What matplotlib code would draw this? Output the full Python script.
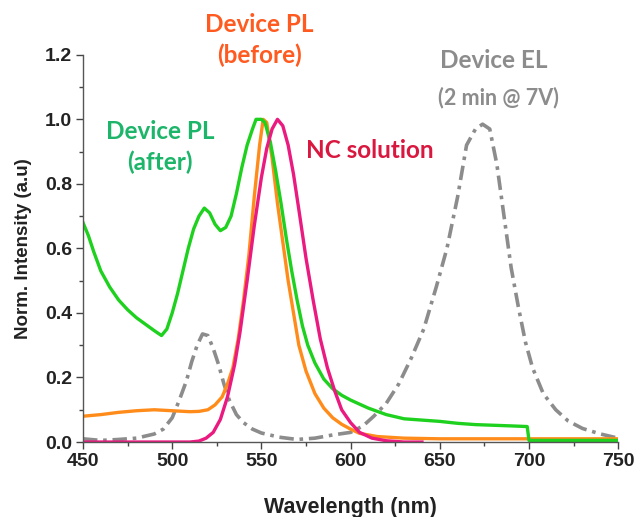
import matplotlib
matplotlib.use("Agg")
import matplotlib.pyplot as plt
from matplotlib.ticker import MultipleLocator

# Device PL (after) - green
wl_after = [450, 453, 456, 460, 465, 470, 475, 480, 485, 490, 494, 497, 500, 503, 506,
            509, 512, 515, 518, 521, 524, 527, 530, 533, 536, 539, 542, 545, 547, 550,
            552, 555, 558, 561, 564, 567, 570, 573, 576, 580, 585, 590, 595, 600, 610,
            620, 630, 640, 650, 660, 670, 680, 690, 699, 700, 750]
pl_after = [0.68, 0.64, 0.59, 0.53, 0.48, 0.44, 0.41, 0.385, 0.365, 0.345, 0.33, 0.35,
            0.40, 0.46, 0.53, 0.60, 0.66, 0.70, 0.725, 0.71, 0.675, 0.655, 0.665, 0.70,
            0.77, 0.85, 0.92, 0.97, 1.0, 1.0, 0.99, 0.93, 0.84, 0.74, 0.63, 0.53, 0.44,
            0.36, 0.30, 0.245, 0.195, 0.165, 0.145, 0.13, 0.105, 0.085, 0.072, 0.068,
            0.064, 0.058, 0.054, 0.052, 0.05, 0.048, 0.005, 0.005]

# Device PL (before) - orange
wl_before = [450, 460, 470, 480, 490, 500, 510, 515, 520, 524, 528, 531, 534, 537, 540,
             543, 546, 549, 551, 553, 556, 559, 562, 565, 568, 571, 575, 580, 585, 590,
             595, 600, 605, 615, 630, 650, 700, 750]
pl_before = [0.08, 0.085, 0.092, 0.097, 0.10, 0.097, 0.094, 0.095, 0.10, 0.115, 0.14,
             0.18, 0.23, 0.32, 0.44, 0.58, 0.76, 0.92, 1.0, 0.99, 0.88, 0.74, 0.62, 0.50,
             0.40, 0.30, 0.22, 0.15, 0.105, 0.075, 0.055, 0.04, 0.027, 0.017, 0.012,
             0.01, 0.01, 0.01]

# NC solution - magenta
wl_nc = [450, 510, 515, 519, 523, 527, 531, 535, 538, 542, 546, 550, 553, 556, 559, 562,
         565, 568, 571, 575, 579, 583, 587, 591, 595, 600, 605, 612, 620, 630, 640]
pl_nc = [0.0, 0.0, 0.003, 0.012, 0.03, 0.07, 0.14, 0.24, 0.34, 0.50, 0.67, 0.82, 0.91,
         0.97, 1.0, 0.98, 0.92, 0.83, 0.72, 0.57, 0.44, 0.32, 0.23, 0.16, 0.10, 0.06,
         0.03, 0.012, 0.004, 0.0, 0.0]

# Device EL - gray
wl_el = [450, 460, 470, 480, 490, 495, 500, 504, 508, 511, 514, 517, 520, 523, 526, 529,
         532, 536, 540, 545, 550, 560, 570, 580, 590, 600, 607, 613, 620, 627, 634, 641,
         648, 654, 660, 665, 670, 674, 678, 682, 686, 690, 694, 698, 702, 708, 715, 722,
         730, 740, 750]
el = [0.01, 0.005, 0.008, 0.012, 0.025, 0.04, 0.075, 0.13, 0.19, 0.25, 0.30, 0.335, 0.33,
      0.29, 0.24, 0.18, 0.13, 0.085, 0.06, 0.04, 0.028, 0.015, 0.008, 0.012, 0.022,
      0.03, 0.05, 0.08, 0.12, 0.18, 0.26, 0.35, 0.48, 0.60, 0.76, 0.92, 0.97, 0.985,
      0.97, 0.86, 0.70, 0.54, 0.42, 0.31, 0.23, 0.15, 0.10, 0.065, 0.042, 0.025, 0.012]

xticks = [450, 500, 550, 600, 650, 700, 750]
yticks = [0.0, 0.2, 0.4, 0.6, 0.8, 1.0, 1.2]

fig = plt.figure(figsize=(6.36, 5.17), dpi=100)
ax = fig.add_axes([0.1305, 0.145, 0.8415, 0.749])

ax.plot(wl_el, el, color="#8c8c8c", lw=2.6, linestyle=(0, (4, 1.6, 1, 1.6)))
ax.plot(wl_before, pl_before, color="#ff8c1a", lw=2.4)
ax.plot(wl_after, pl_after, color="#1fd11f", lw=2.4)
ax.plot(wl_nc, pl_nc, color="#ea1a80", lw=2.4)

ax.set_xlim(450, 750)
ax.set_ylim(0, 1.2)
ax.set_xticks(xticks)
ax.set_yticks(yticks)
ax.set_xticklabels([str(t) for t in xticks])
ax.set_yticklabels([f"{t:.1f}" for t in yticks])
ax.xaxis.set_minor_locator(MultipleLocator(25))
ax.yaxis.set_minor_locator(MultipleLocator(0.1))
ax.tick_params(which="major", direction="out", length=5, width=1, color="#444444",
               labelsize=14, pad=3)
ax.tick_params(which="minor", direction="out", length=3, width=1, color="#444444")
for lab in ax.get_xticklabels() + ax.get_yticklabels():
    lab.set_fontfamily("Liberation Sans")
    lab.set_fontweight("bold")
    lab.set_color("#222222")
ax.spines["top"].set_visible(False)
ax.spines["right"].set_visible(False)
for s in ("left", "bottom"):
    ax.spines[s].set_color("#555555")
    ax.spines[s].set_linewidth(1)

ax.set_xlabel("Wavelength (nm)", fontsize=15.5, fontweight="bold",
              fontfamily="Liberation Sans", color="#222222", labelpad=19)
ax.set_ylabel("Norm. Intensity (a.u)", fontsize=13.5, fontweight="bold",
              fontfamily="Liberation Sans", color="#222222", labelpad=9)

def ftxt(x, y, s, color, size):
    fig.text(x / 636, 1 - y / 517, s, color=color, fontsize=size,
             fontfamily="Lato", fontweight="bold", ha="center", va="center")

ftxt(259, 24, "Device PL", "#ff5a1f", 17.5)
ftxt(259, 55, "(before)", "#ff5a1f", 17.5)
ftxt(494, 61, "Device EL", "#8c8c8c", 17.5)
ftxt(498, 98, "(2 min @ 7V)", "#8c8c8c", 15.5)
ftxt(160, 132, "Device PL", "#1db56a", 17.5)
ftxt(160, 162, "(after)", "#1db56a", 17.5)
ftxt(370, 151, "NC solution", "#d9173f", 17.5)

fig.savefig("out.png", dpi=100)
